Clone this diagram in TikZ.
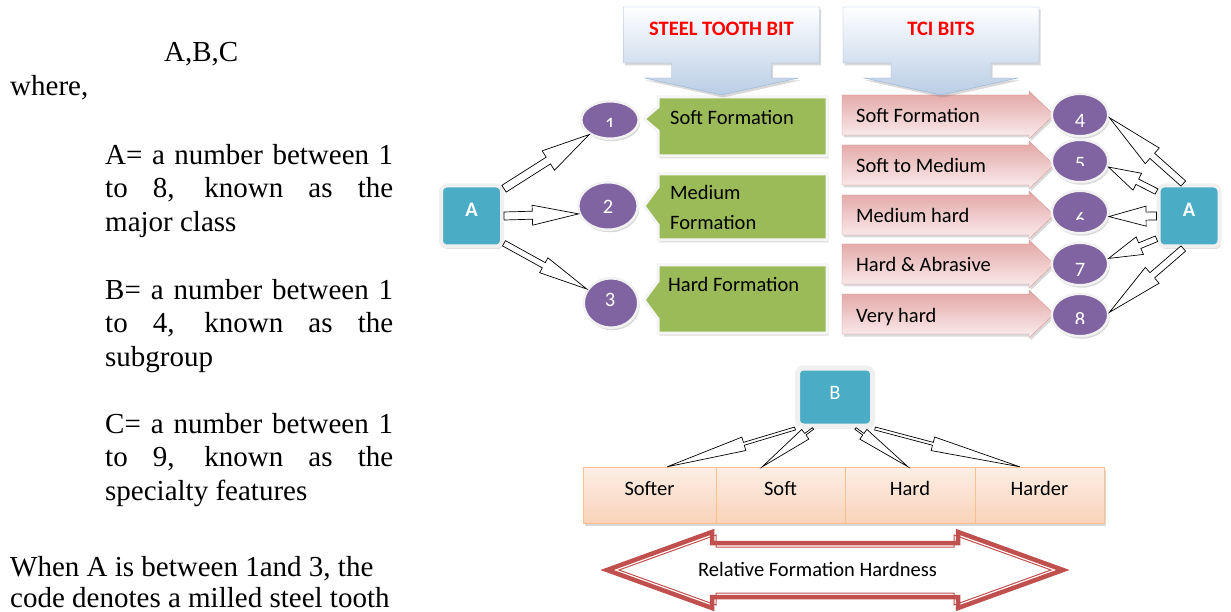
\documentclass[tikz,border=0pt]{standalone}
\usepackage{fontspec}
\setmainfont{Carlito}
\newfontfamily\timesfont{Liberation Serif}
\usetikzlibrary{shapes.geometric, shadows, calc}

\definecolor{callblue}{HTML}{B9CDE5}
\definecolor{callline}{HTML}{95B3D7}
\definecolor{stgreen}{HTML}{9BBB59}
\definecolor{tcipink}{HTML}{E2A5A4}
\definecolor{tcipinklight}{HTML}{FBEEEE}
\definecolor{tciline}{HTML}{D99694}
\definecolor{discpurple}{HTML}{8064A2}
\definecolor{boxteal}{HTML}{4BACC6}
\definecolor{peachtop}{HTML}{FDEFE6}
\definecolor{peachbot}{HTML}{F9D3B8}
\definecolor{peachline}{HTML}{FAC090}
\definecolor{hardred}{HTML}{C0504D}

\begin{document}
\begin{tikzpicture}[x=1pt, y=-1pt]
  \tikzstyle{para} = [anchor=base west, inner sep=0pt, font=\timesfont\fontsize{29}{33}\selectfont]
  \tikzstyle{lbl} = [inner sep=0pt, font=\fontsize{20.5}{30}\selectfont]
  \tikzstyle{shdw} = [drop shadow={shadow xshift=1.5pt, shadow yshift=-2.5pt, opacity=.3}]
  \tikzstyle{bitcallout} = [draw=callline, top color=white, bottom color=callblue, shdw]
  \tikzstyle{stbox} = [fill=stgreen, draw=white!96!black, line width=3pt, shdw]
  \tikzstyle{tciarr} = [draw=tciline, top color=tcipink, bottom color=tcipinklight, shdw]
  \tikzstyle{disc} = [ellipse, fill=discpurple, draw=white!95!black, line width=2.5pt, shdw]
  \tikzstyle{num} = [lbl, text=white, anchor=north]
  \tikzstyle{keybox} = [rectangle, rounded corners=6pt, fill=boxteal, draw=white!94!black, line width=4pt, shdw, text=white, font=\fontsize{20.5}{30}\selectfont]
  \tikzstyle{hardbox} = [rectangle, top color=peachtop, bottom color=peachbot, draw=peachline, minimum height=56pt, text height=14pt, text depth=14pt, inner sep=0pt, shdw, font=\fontsize{20.5}{30}\selectfont]
  \tikzset{blockarr/.style n args={3}{draw=black, fill=white, line width=0.7pt, line join=miter,
    to path={let \p1=(\tikztostart), \p2=(\tikztotarget),
      \n1={atan2(\y2-\y1,\x2-\x1)}, \n2={veclen(\x2-\x1,\y2-\y1)}, \n3={#3*\n2} in
      [shift={(\p1)}, rotate=\n1] (0,#1/2) -- (\n2-\n3,#1/2) -- (\n2-\n3,#2/2) -- (\n2,0)
      -- (\n2-\n3,-#2/2) -- (\n2-\n3,-#1/2) -- (0,-#1/2) -- cycle}}}

  \useasboundingbox (0,0) rectangle (1231,612);

  % text column
  \node[para] (abc) at (164,62) {A,B,C};
  \node[para] (where) at (10,96) {where,};
  \node[para] (pa1) at (105,164.5) {\makebox[288pt][s]{A= a number between 1}};
  \node[para] (pa2) at (105,198) {\makebox[288pt][s]{to 8, known as the}};
  \node[para] (pa3) at (105,231.5) {major class};
  \node[para] (pb1) at (105,299) {\makebox[288pt][s]{B= a number between 1}};
  \node[para] (pb2) at (105,332.5) {\makebox[288pt][s]{to 4, known as the}};
  \node[para] (pb3) at (105,366) {subgroup};
  \node[para] (pc1) at (105,433) {\makebox[288pt][s]{C= a number between 1}};
  \node[para] (pc2) at (105,466.5) {\makebox[288pt][s]{to 9, known as the}};
  \node[para] (pc3) at (105,500) {specialty features};
  \node[para] (pw1) at (10,576) {When A is between 1and 3, the};
  \node[para] (pw2) at (10,607) {code denotes a milled steel tooth};

  % steel tooth bits
  \foreach \t/\b/\n/\h in {97/156/119/12, 174/240/206/19, 265/333/300/19}
    \draw[stbox] (658,\t) -- (827,\t) -- (827,\b) -- (658,\b) -- (658,\n+\h) -- (644,\n) -- (658,\n-\h) -- cycle;
  \node[lbl, anchor=base west] (g1) at (670,125) {Soft Formation};
  \node[lbl, anchor=north west, align=left] (g2) at (670,185.5) {Medium\\Formation};
  \node[lbl, anchor=base west] (g3) at (668,291) {Hard Formation};

  % TCI bits
  \foreach \c/\txt [count=\i] in {115/Soft Formation, 165/Soft to Medium, 215/Medium hard, 264/Hard \& Abrasive, 314/Very hard} {
    \draw[tciarr] (842,\c-20) -- (1029,\c-20) -- (1029,\c-24) -- (1054,\c) -- (1029,\c+24) -- (1029,\c+20) -- (842,\c+20) -- cycle;
    \node[lbl, anchor=base west] (t\i) at (856,\c+8) {\txt};
  }

  % classes 1-8
  \node[disc, minimum width=57.5pt, minimum height=37.5pt] (d1) at (610,120) {};
  \node[disc, minimum width=59.5pt, minimum height=47.5pt] (d2) at (608,206) {};
  \node[disc, minimum width=54.5pt, minimum height=49.5pt] (d3) at (611,303) {};
  \foreach \n/\y in {4/115, 5/161, 6/212, 7/264, 8/315}
    \node[disc, minimum width=56.5pt, minimum height=42.5pt] (d\n) at (1080,\y) {};
  \foreach \n/\x/\t/\b in {1/610/118/127, 2/608/200/230, 3/610/293/330, 4/1080/114/140, 5/1080/157/166, 6/1080/212/220, 7/1080/263/290, 8/1080/312/323} {
    \begin{scope}
      \clip (\x-20,\t-4) rectangle (\x+20,\b);
      \node[num] (n\n) at (\x,\t) {\n};
    \end{scope}
  }

  % major class boxes
  \node[keybox, minimum size=61pt, text depth=13pt, font=\fontsize{20.5}{30}\selectfont\bfseries] (A1) at (471.5,216) {A};
  \node[keybox, minimum size=61pt, text depth=13pt, font=\fontsize{20.5}{30}\selectfont\bfseries] (A2) at (1189,216) {A};

  \draw[blockarr={8}{23}{0.48}] (A1.40) to (d1.215);
  \draw[blockarr={8}{20}{0.62}] (A1.east) to (d2.195);
  \draw[blockarr={6}{17}{0.52}] (A1.-40) to (d3.150);

  \draw[blockarr={7}{21}{0.58}] (A2.100) to (d4.-5);
  \draw[blockarr={6}{19}{0.6}] (A2.143) to (d5.-12);
  \draw[blockarr={8}{20}{0.78}] (A2.west) to (d6.-9);
  \draw[blockarr={6}{19}{0.65}] (A2.215) to (d7.11);
  \draw[blockarr={7}{21}{0.58}] (A2.260) to (d8.5);

  % subgroup
  \node[keybox, line width=5pt, minimum width=75pt, minimum height=58pt, text depth=9pt] (B) at (835,397) {B};
  \foreach \x/\w/\txt [count=\i] in {649.5/133/Softer, 780.5/129/Soft, 910/130/Hard, 1039.5/129/Harder}
    \node[hardbox, minimum width=\w] (s\i) at (\x,495) {\txt};

  \draw[blockarr={3}{14}{0.6}] (B.south west) to (s1.58);
  \draw[blockarr={2}{12}{0.85}] (B.235) to (s2.123);
  \draw[blockarr={2}{12}{0.85}] (B.-57) to (s3.94);
  \draw[blockarr={3}{14}{0.6}] (B.south east) to (s4.125);

  % hardness scale
  \draw[hardred, line width=4.5pt, fill=white, line join=miter] (607,570) -- (712,532) -- (712,543) -- (958,543) -- (958,532) -- (1063,570)
    -- (958,608) -- (958,597) -- (712,597) -- (712,608) -- cycle;
  \draw[hardred, line width=1pt, line join=miter] (619,570) -- (716,535) -- (716,547) -- (954,547) -- (954,535) -- (1051,570)
    -- (954,605) -- (954,593) -- (716,593) -- (716,605) -- cycle;
  \node[lbl] (rfh) at (817.5,569) {Relative Formation Hardness};

  % bit type callouts
  \foreach \cx/\txt/\nm in {721.5/STEEL TOOTH BIT/stb, 941/TCI BITS/tci} {
    \draw[bitcallout] (\cx-98,7) -- (\cx+98,7) -- (\cx+98,63) -- (\cx+50,63) -- (\cx+50,78) -- (\cx+77,78) -- (\cx,95)
      -- (\cx-77,78) -- (\cx-50,78) -- (\cx-50,63) -- (\cx-98,63) -- cycle;
    \node[lbl, font=\fontsize{20.5}{30}\selectfont\bfseries, text=red] (\nm) at (\cx,28.5) {\txt};
  }
\end{tikzpicture}
\end{document}
